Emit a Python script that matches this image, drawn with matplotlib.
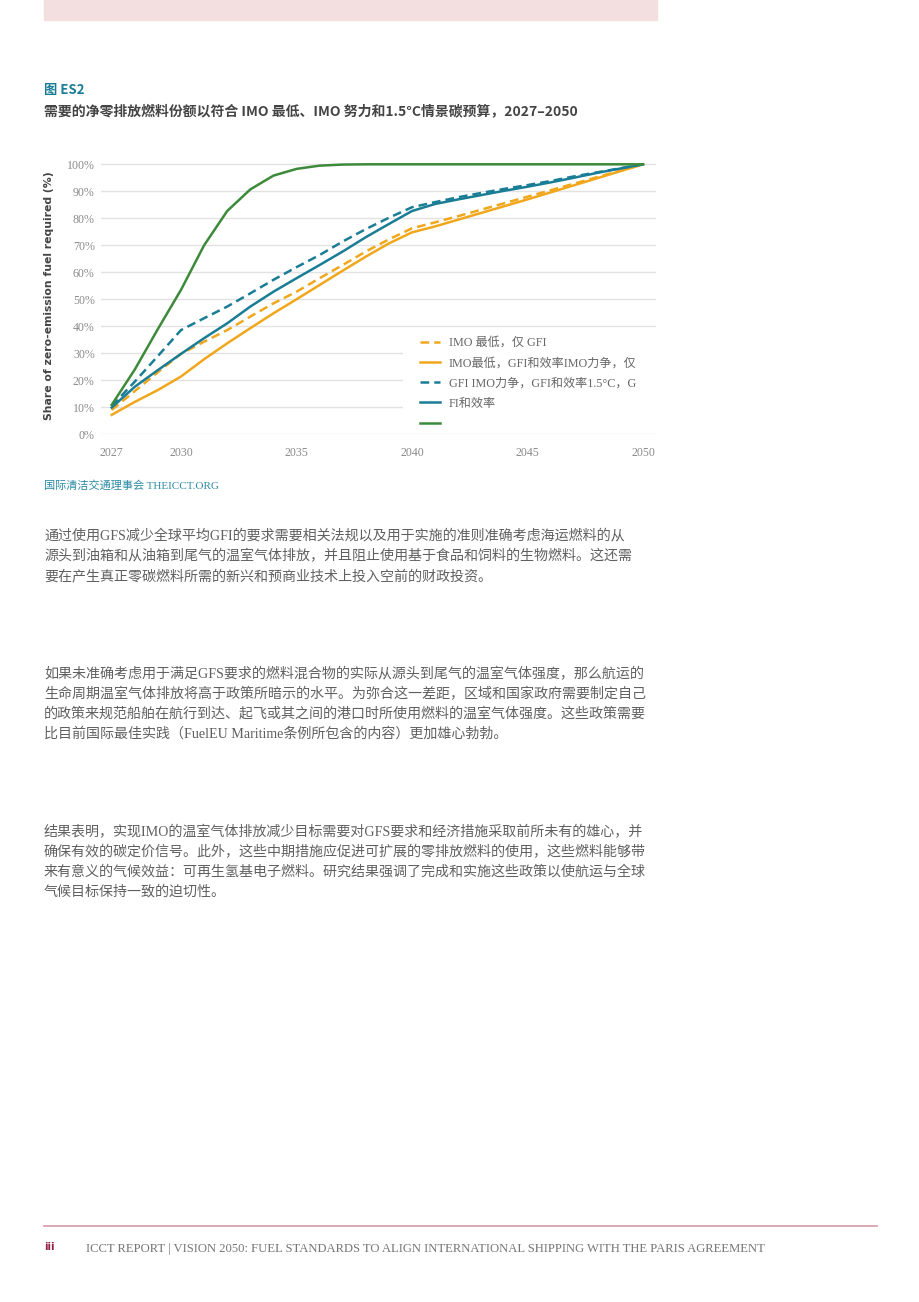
import matplotlib
matplotlib.use("Agg")
import matplotlib.pyplot as plt
import numpy as np

# ---- data ----
years = list(range(2027, 2051))
imo_min_gfi = [9.0, 16.0, 23.0, 29.8, 34.3, 38.6, 43.6, 48.5, 52.8, 57.8, 62.7, 67.7,
               72.2, 76.3, 78.5, 80.8, 83.2, 85.6, 88.0, 90.4, 92.8, 95.2, 97.6, 100.0]
imo_min_gfi_eff = [7.2, 12.0, 16.4, 21.4, 27.8, 33.7, 39.3, 44.8, 50.0, 55.3, 60.6, 65.8,
                   70.7, 74.8, 77.0, 79.5, 82.0, 84.5, 87.0, 89.6, 92.2, 94.8, 97.4, 100.0]
imo_striv_gfi = [10.5, 19.5, 29.0, 38.6, 43.0, 47.3, 52.2, 57.2, 61.9, 66.4, 71.4, 76.0,
                 80.2, 84.1, 86.0, 87.8, 89.4, 90.9, 92.3, 93.8, 95.5, 97.0, 98.5, 100.0]
imo_striv_gfi_eff = [9.9, 17.6, 23.8, 29.8, 35.6, 41.1, 47.3, 52.8, 57.8, 62.7, 67.7, 73.0,
                     77.9, 82.7, 85.3, 87.0, 88.6, 90.2, 91.7, 93.3, 95.0, 96.8, 98.4, 100.0]
c15 = [10.9, 24.0, 39.0, 53.5, 70.0, 82.7, 90.7, 95.8, 98.3, 99.5, 99.9, 100.0,
       100.0, 100.0, 100.0, 100.0, 100.0, 100.0, 100.0, 100.0, 100.0, 100.0, 100.0, 100.0]

legend_labels = ["IMO 最低，仅 GFI", "IMO最低，GFI和效率IMO力争，仅",
                 "GFI IMO力争，GFI和效率1.5°C，G", "FI和效率", " "]
x_ticks = [2027, 2030, 2035, 2040, 2045, 2050]
y_ticks = list(range(0, 101, 10))

para1 = ["通过使用GFS减少全球平均GFI的要求需要相关法规以及用于实施的准则准确考虑海运燃料的从",
         "源头到油箱和从油箱到尾气的温室气体排放，并且阻止使用基于食品和饲料的生物燃料。这还需",
         "要在产生真正零碳燃料所需的新兴和预商业技术上投入空前的财政投资。"]
para2 = ["如果未准确考虑用于满足GFS要求的燃料混合物的实际从源头到尾气的温室气体强度，那么航运的",
         "生命周期温室气体排放将高于政策所暗示的水平。为弥合这一差距，区域和国家政府需要制定自己",
         "的政策来规范船舶在航行到达、起飞或其之间的港口时所使用燃料的温室气体强度。这些政策需要",
         "比目前国际最佳实践（FuelEU Maritime条例所包含的内容）更加雄心勃勃。"]
para3 = ["结果表明，实现IMO的温室气体排放减少目标需要对GFS要求和经济措施采取前所未有的雄心，并",
         "确保有效的碳定价信号。此外，这些中期措施应促进可扩展的零排放燃料的使用，这些燃料能够带",
         "来有意义的气候效益：可再生氢基电子燃料。研究结果强调了完成和实施这些政策以使航运与全球",
         "气候目标保持一致的迫切性。"]

YEL = "#f0a71c"
TEAL = "#1a7d96"
GREEN = "#3c8a3a"
GREY = "#606060"
CJK = ["Noto Sans CJK SC", "DejaVu Sans"]
SERIF_CJK = ["Liberation Serif", "Noto Sans CJK SC"]

W, H = 920, 1302
fig = plt.figure(figsize=(W / 100, H / 100), dpi=100)


def fy(y):
    return 1 - y / H


def fx(x):
    return x / W


# pink band at top
fig.patches.append(plt.Rectangle((fx(44), fy(20)), fx(657) - fx(44), 20 / H,
                                 transform=fig.transFigure, color="#f3dfdf", zorder=0))

fig.text(fx(44), fy(90), "图 ES2", color=TEAL, fontsize=9.5, fontweight="bold",
         family=CJK, va="center")
fig.text(fx(44), fy(111), "需要的净零排放燃料份额以符合 IMO 最低、IMO 努力和1.5°C情景碳预算，2027–2050",
         color="#444444", fontsize=10, fontweight="bold", family=CJK, va="center")

# ---- chart ----
AX_L, AX_R, AX_B, AX_T = 101, 656, 434.3, 158
ax = fig.add_axes([fx(AX_L), fy(AX_B), fx(AX_R) - fx(AX_L), (AX_B - AX_T) / H])
lw = 1.8
ax.plot(years, imo_min_gfi, color=YEL, lw=lw, dashes=(3.5, 2), label=legend_labels[0])
ax.plot(years, imo_min_gfi_eff, color=YEL, lw=lw, label=legend_labels[1])
ax.plot(years, imo_striv_gfi, color=TEAL, lw=lw, dashes=(3.5, 2), label=legend_labels[2])
ax.plot(years, imo_striv_gfi_eff, color=TEAL, lw=lw, label=legend_labels[3])
ax.plot(years, c15, color=GREEN, lw=lw, label=legend_labels[4])

ax.set_xlim(2027 - 10.7 / 23.1, 2050 + 13 / 23.1)
ax.set_ylim(0, 100 * (AX_B - AX_T) / 270)
ax.set_yticks(y_ticks)
ax.set_yticklabels([f"{v}%" for v in y_ticks])
ax.set_xticks(x_ticks)
ax.grid(axis="y", color="#e2e2e2", lw=1)
ax.set_axisbelow(True)
for s in ax.spines.values():
    s.set_visible(False)
ax.tick_params(length=0, labelsize=8.6, labelcolor="#8a8a8a")
ax.tick_params(axis="x", pad=9.5)
ax.tick_params(axis="y", pad=4.5)
for t in ax.get_xticklabels() + ax.get_yticklabels():
    t.set_family("Liberation Serif")
ax.set_ylabel("Share of zero-emission fuel required (%)", fontsize=7.8, color="#444444",
              fontweight="semibold", family="DejaVu Sans", labelpad=9)

# white patch behind the legend hides the gridlines there
ax.add_patch(plt.Rectangle(((403 - AX_L) / (AX_R - AX_L), (AX_B - 429) / (AX_B - AX_T)),
                           1 - (403 - AX_L) / (AX_R - AX_L), (429 - 340) / (AX_B - AX_T),
                           transform=ax.transAxes, color="white", zorder=1.5, lw=0))
leg = ax.legend(loc="upper left",
                bbox_to_anchor=((420 - AX_L) / (AX_R - AX_L), (AX_B - 337) / (AX_B - AX_T)),
                frameon=False, handlelength=1.65, handletextpad=0.75, labelspacing=0.68,
                prop={"family": SERIF_CJK, "size": 8.7}, borderpad=0, borderaxespad=0)
for t in leg.get_texts():
    t.set_color("#666666")

fig.text(fx(44), fy(486), "国际清洁交通理事会 THEICCT.ORG", color="#2a8aa3", fontsize=8,
         family=SERIF_CJK, va="center")

# ---- body text ----
for start, lines in ((536, para1), (674, para2), (832, para3)):
    for i, line in enumerate(lines):
        fig.text(fx(44), fy(start + 20 * i), line, color=GREY, fontsize=10.1,
                 family=SERIF_CJK, va="center")

# ---- footer ----
fig.add_artist(plt.Line2D([fx(44), fx(877)], [fy(1226), fy(1226)], color="#d49aa8", lw=1.2))
fig.text(fx(44), fy(1247), "iii", color="#8c1d40", fontsize=7, fontweight="bold",
         family="DejaVu Sans", va="center")
fig.text(fx(86), fy(1249), "ICCT REPORT | VISION 2050: FUEL STANDARDS TO ALIGN INTERNATIONAL "
         "SHIPPING WITH THE PARIS AGREEMENT", color="#777777", fontsize=9.1,
         family="Liberation Serif", va="center")

fig.savefig("out.png", dpi=100)
